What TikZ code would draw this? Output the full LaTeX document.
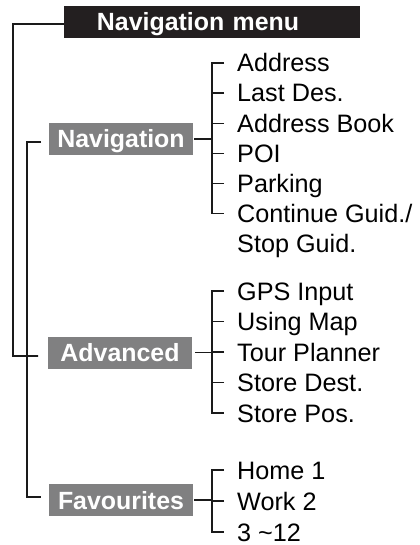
\documentclass[tikz,border=0pt]{standalone}
\usepackage{fontspec}
\setmainfont{Liberation Sans}
\definecolor{catgray}{HTML}{808081}
\definecolor{titleblack}{HTML}{231F20}
\definecolor{linecol}{HTML}{1A1A1A}
\begin{document}
\begin{tikzpicture}[x=1bp,y=-1bp,
  line/.style={line width=1.8bp, draw=linecol},
  item/.style={anchor=west, inner sep=0pt, text height=23bp, text depth=5bp,
    font=\fontsize{25.3}{30}\selectfont},
  catbox/.style={fill=catgray, text=white, inner sep=0pt,
    minimum width=144bp, minimum height=32bp,
    text height=18bp, text depth=0bp,
    font=\bfseries\fontsize{25}{30}\selectfont},
  titlebox/.style={fill=titleblack, text=white, inner sep=0pt,
    text width=296bp, minimum height=32bp, align=left,
    text height=18bp, text depth=0bp,
    font=\bfseries\fontsize{25}{30}\selectfont}
]
\useasboundingbox (0,0) rectangle (419,545);

% title
\node[titlebox] (title) at (212,22) {\hspace*{33bp}Navigation menu};

% category boxes
\node[catbox] (nav) at (121,139) {Navigation};
\node[catbox] (adv) at (120,352.5) {Advanced};
\node[catbox] (fav) at (121,500) {Favourites};

% navigation items
\node[item] (n1) at (237,63) {Address};
\node[item] (n2) at (237,93) {Last Des.};
\node[item] (n3) at (237,123.5) {Address Book};
\node[item] (n4) at (237,153.5) {POI};
\node[item] (n5) at (237,183.5) {Parking};
\node[item] (n6) at (237,213.5) {Continue Guid./};
\node[item] (n7) at (237,243.5) {Stop Guid.};

% advanced items
\node[item] (a1) at (237,291) {GPS Input};
\node[item] (a2) at (237,321.5) {Using Map};
\node[item] (a3) at (237,352) {Tour Planner};
\node[item] (a4) at (237,382.5) {Store Dest.};
\node[item] (a5) at (237,413) {Store Pos.};

% favourites items
\node[item] (f1) at (237,470) {Home 1};
\node[item] (f2) at (237,501) {Work 2};
\node[item] (f3) at (237,532) {3 \textasciitilde12};

% main tree lines
\coordinate (o1) at (13,24);
\coordinate (o2) at (13,356);
\coordinate (o3) at (38,356);
\draw[line] ([yshift=-2bp]title.west) -- (o1) -- (o2) -- (o3);

\coordinate (i1) at (41,142);
\coordinate (i2) at (27,142);
\coordinate (i3) at (27,497);
\coordinate (i4) at (41,497);
\draw[line] (i1) -- (i2) -- (i3) -- (i4);

% navigation bracket
\draw[line] ([xshift=-13bp]n1.west) -- ([xshift=-25bp]n1.west)
  -- ([xshift=-25bp]n6.west) -- ([xshift=-13bp]n6.west);
\foreach \n in {n2,n3,n4,n5}
  \draw[line] ([xshift=-13bp]\n.west) -- ([xshift=-25bp]\n.west);
\draw[line] ([xshift=1bp]nav.east) -- ([xshift=-25bp]n1.west |- nav.east);

% advanced bracket
\draw[line] ([xshift=-13bp]a1.west) -- ([xshift=-25bp]a1.west)
  -- ([xshift=-25bp]a5.west) -- ([xshift=-13bp]a5.west);
\foreach \n in {a2,a3,a4}
  \draw[line] ([xshift=-13bp]\n.west) -- ([xshift=-25bp]\n.west);
\draw[line] ([xshift=3bp]adv.east) -- ([xshift=-25bp]a1.west |- adv.east);

% favourites bracket
\draw[line] ([xshift=-13bp]f1.west) -- ([xshift=-25bp]f1.west)
  -- ([xshift=-25bp]f3.west) -- ([xshift=-13bp]f3.west);
\draw[line] ([xshift=-13bp]f2.west) -- ([xshift=-25bp]f2.west);
\draw[line] ([xshift=1bp]fav.east) -- ([xshift=-25bp]f1.west |- fav.east);
\end{tikzpicture}
\end{document}
